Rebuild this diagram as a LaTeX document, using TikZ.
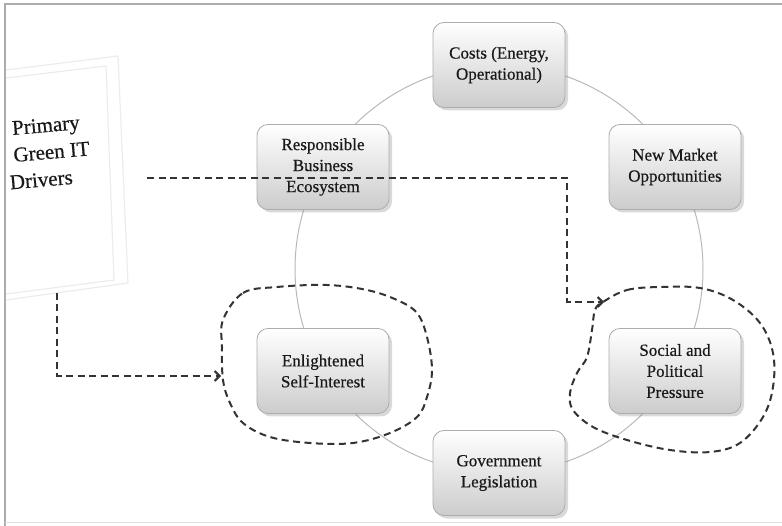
\documentclass[tikz,border=0pt]{standalone}
\usepackage{fontspec}
\setmainfont{Liberation Serif}
\newfontfamily\heavyserif{Liberation Serif}[FakeBold=0.5]
\usetikzlibrary{shadows,arrows.meta}
\begin{document}
\begin{tikzpicture}[x=1pt,y=-1pt,
  driverbox/.style={rounded corners=11pt, draw=gray!65, line width=0.8pt,
    top color=white, bottom color=gray!40, minimum width=132pt, minimum height=85pt,
    align=center, font=\heavyserif\fontsize{17}{21}\selectfont, text=black!90,
    drop shadow={opacity=0.3, shadow xshift=3pt, shadow yshift=-3pt}},
  ringline/.style={draw=gray!55, line width=1pt},
  flow/.style={dash pattern=on 7pt off 4.5pt, line width=2pt, draw=black!80},
  tipflow/.style={flow, -{Straight Barb[length=5pt,width=10pt]}},
  faint/.style={draw=gray!15, line width=1.2pt}]
\useasboundingbox (0,0) rectangle (782,526);
% outer frame
\draw[gray!65, line width=2.4pt] (5,526) -- (5,4) -- (782,4);
\draw[gray!25, line width=1pt] (5,522) -- (782,522);
% faint driver frame
\draw[faint] (6,70) -- (118,56) -- (128,283) -- (6,300);
\draw[faint] (6,78) -- (106,66) -- (114,280) -- (6,294);
\node[rotate=5, align=left, font=\heavyserif\fontsize{21}{27}\selectfont, text=black!90, anchor=west] (drivers) at (4,156)
  {\hspace*{7pt}Primary\\\hspace*{6pt}Green IT\\Drivers};
% ring
\node[ringline, circle, minimum size=408pt, inner sep=0pt] (ring) at (499,269) {};
% boxes
\node[driverbox] (costs) at (499,65) {Costs (Energy,\\Operational)};
\node[driverbox] (resp) at (323,167) {Responsible\\Business\\Ecosystem};
\node[driverbox] (market) at (675,167) {New Market\\Opportunities};
\node[driverbox] (self) at (323,371) {Enlightened\\Self-Interest};
\node[driverbox] (social) at (675,371) {Social and\\Political\\Pressure};
\node[driverbox] (gov) at (499,473) {Government\\Legislation};
% dashed blobs
\draw[flow] plot[smooth cycle, tension=0.6] coordinates {
  (223,320) (243,293) (277,287) (327,285) (367,290) (397,300) (417,313)
  (427,337) (432,370) (427,397) (417,417) (390,433) (353,443) (310,443)
  (270,437) (243,423) (230,403) (223,380) (222,347)};
\draw[flow] plot[smooth cycle, tension=0.6] coordinates {
  (603,302) (627,290) (660,287) (700,288) (733,300) (760,323) (773,353)
  (773,387) (763,417) (740,443) (710,452) (670,450) (627,440) (593,427)
  (573,410) (570,393) (577,373) (587,357) (592,330) (595,310)};
% dashed connectors
\coordinate (startA) at (147,178);
\coordinate (endA) at (604,302);
\coordinate (startB) at (57,293);
\coordinate (endB) at (221,376);
\draw[tipflow] (startA) -| (567,302) -- (endA);
\draw[tipflow] (startB) |- (endB);
\end{tikzpicture}
\end{document}
